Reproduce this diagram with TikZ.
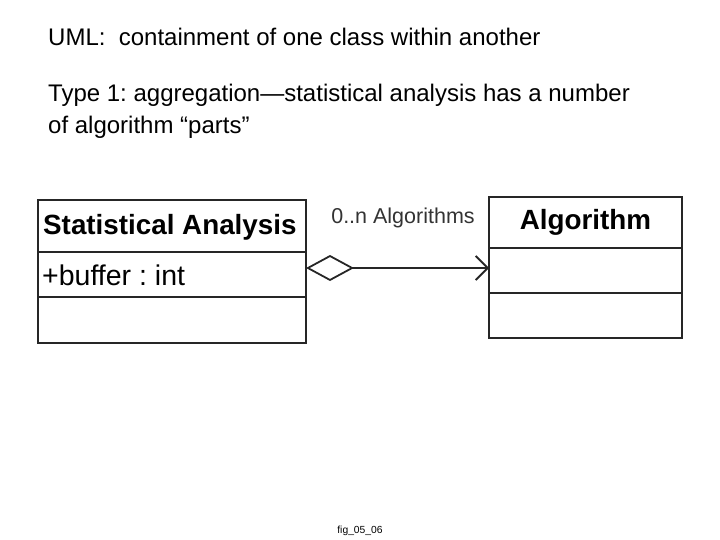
\documentclass[tikz,border=0pt]{standalone}
\usepackage{fontspec}
\setmainfont{Liberation Sans}
\usetikzlibrary{positioning, arrows.meta}
\frenchspacing

\begin{document}
\begin{tikzpicture}[
        x=1pt, y=-1pt,
        part/.style={
                draw=black!85,
                line width=2pt,
                outer sep=0pt,
                inner sep=4pt,
                anchor=north west
            },
        heading/.style = {font=\fontsize{24}{32}\selectfont},
        classname/.style = {font=\fontsize{27.8}{30}\selectfont\bfseries},
        member/.style = {font=\fontsize{28.5}{30}\selectfont, align=left}
    ]
    \useasboundingbox (0,0) rectangle (720,540);

    \node[heading, anchor=base west, inner sep=0pt] (title) at (48,46) {UML:\ \ containment of one class within another};
    \node[heading, anchor=base west, inner sep=0pt] (type) at (48,102) {Type 1: aggregation---statistical analysis has a number};
    \node[heading, anchor=base west, inner sep=0pt] (type_cont) at (48,134) {of algorithm ``parts''};

    % Statistical Analysis class
    \node[part, minimum width=268pt, minimum height=52pt] (sa_name) at (38,200) {};
    \node[classname, anchor=west, inner sep=0pt] (sa_label) at ([xshift=5pt,yshift=-1pt]sa_name.west) {Statistical Analysis};
    \node[part, minimum width=268pt, minimum height=45pt] (sa_attr) [below=0pt of sa_name.south west, anchor=north west] {};
    \node[member, anchor=west, inner sep=0pt] (sa_buffer) at ([xshift=4pt,yshift=-1pt]sa_attr.west) {+buffer : int};
    \node[part, minimum width=268pt, minimum height=46pt] (sa_ops) [below=0pt of sa_attr.south west, anchor=north west] {};

    % Algorithm class
    \node[part, minimum width=193pt, minimum height=51pt, classname] (alg_name) at (489,197) {Algorithm};
    \node[part, minimum width=193pt, minimum height=45pt] (alg_attr) [below=0pt of alg_name.south west, anchor=north west] {};
    \node[part, minimum width=193pt, minimum height=45pt] (alg_ops) [below=0pt of alg_attr.south west, anchor=north west] {};

    \coordinate (whole) at (sa_attr.east |- 0,268);
    \coordinate (parts) at (alg_attr.west |- whole);
    \draw[line width=1.8pt, draw=black!85,
        {Diamond[open, length=48pt, width=26pt]}-{Straight Barb[length=12pt, width=24pt]}]
        (whole) -- (parts);
    \node[font=\fontsize{21.5}{24}\selectfont, text=black!80] (role) at (403,218) {0..n Algorithms};

    \node[font=\fontsize{10.3}{11}\selectfont] (caption) at (360,531) {fig\_05\_06};
\end{tikzpicture}
\end{document}
